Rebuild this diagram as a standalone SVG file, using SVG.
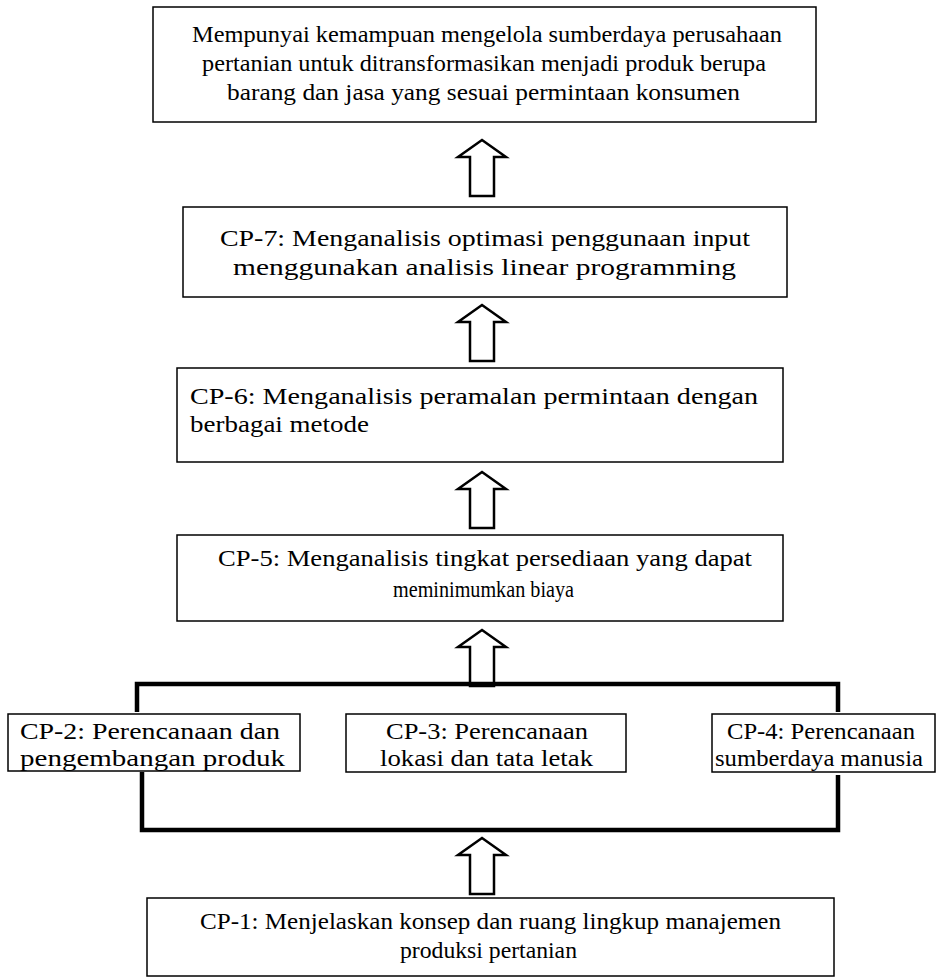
<svg xmlns="http://www.w3.org/2000/svg" width="941" height="980" viewBox="0 0 941 980">
<defs>
<style>
.box{fill:#fff;stroke:#000;stroke-width:1.5}
.t{font-family:"Liberation Serif","Times New Roman",serif;font-size:23px;fill:#000}
.arr{fill:#fff;stroke:#000;stroke-width:2.5;stroke-linejoin:miter}
.br{fill:none;stroke:#000;stroke-width:4.5}
</style>
<path id="arrow" class="arr" d="M0,0 L24,17 L12,17 L12,56 L-12,56 L-12,17 L-24,17 Z"/>
</defs>
<rect width="941" height="980" fill="#fff"/>
<g id="goal">
<rect class="box" x="153" y="7" width="663" height="115"/>
<text class="t" x="192" y="42" textLength="590" lengthAdjust="spacingAndGlyphs">Mempunyai kemampuan mengelola sumberdaya perusahaan</text>
<text class="t" x="202" y="71" textLength="564" lengthAdjust="spacingAndGlyphs">pertanian untuk ditransformasikan menjadi produk berupa</text>
<text class="t" x="227" y="100" textLength="513" lengthAdjust="spacingAndGlyphs">barang dan jasa yang sesuai permintaan konsumen</text>
</g>
<g id="cp7">
<rect class="box" x="183" y="207" width="604" height="90"/>
<text class="t" x="220" y="246" textLength="530" lengthAdjust="spacingAndGlyphs">CP-7: Menganalisis optimasi penggunaan input</text>
<text class="t" x="233" y="275" textLength="503" lengthAdjust="spacingAndGlyphs">menggunakan analisis linear programming</text>
</g>
<g id="cp6">
<rect class="box" x="177" y="368" width="606" height="94"/>
<text class="t" x="190" y="404" textLength="568" lengthAdjust="spacingAndGlyphs">CP-6: Menganalisis peramalan permintaan dengan</text>
<text class="t" x="190" y="432" textLength="179" lengthAdjust="spacingAndGlyphs">berbagai metode</text>
</g>
<g id="cp5">
<rect class="box" x="177" y="535" width="606" height="86"/>
<text class="t" x="218" y="566" textLength="534" lengthAdjust="spacingAndGlyphs">CP-5: Menganalisis tingkat persediaan yang dapat</text>
<text class="t" x="393" y="597" textLength="181" lengthAdjust="spacingAndGlyphs">meminimumkan biaya</text>
</g>
<g id="cp2">
<rect class="box" x="8" y="714" width="292" height="57"/>
<text class="t" x="20" y="739" textLength="260" lengthAdjust="spacingAndGlyphs">CP-2: Perencanaan dan</text>
<text class="t" x="20" y="766" textLength="265" lengthAdjust="spacingAndGlyphs">pengembangan produk</text>
</g>
<g id="cp3">
<rect class="box" x="346" y="714" width="280" height="58"/>
<text class="t" x="386" y="739" textLength="202" lengthAdjust="spacingAndGlyphs">CP-3: Perencanaan</text>
<text class="t" x="380" y="766" textLength="213" lengthAdjust="spacingAndGlyphs">lokasi dan tata letak</text>
</g>
<g id="cp4">
<rect class="box" x="712" y="714" width="223" height="58"/>
<text class="t" x="727" y="739" textLength="188" lengthAdjust="spacingAndGlyphs">CP-4: Perencanaan</text>
<text class="t" x="715" y="766" textLength="208" lengthAdjust="spacingAndGlyphs">sumberdaya manusia</text>
</g>
<g id="cp1">
<rect class="box" x="147" y="898" width="687" height="78"/>
<text class="t" x="200" y="929" textLength="581" lengthAdjust="spacingAndGlyphs">CP-1: Menjelaskan konsep dan ruang lingkup manajemen</text>
<text class="t" x="400" y="958" textLength="177" lengthAdjust="spacingAndGlyphs">produksi pertanian</text>
</g>
<g id="connectors">
<use href="#arrow" x="482" y="140"/>
<use href="#arrow" x="482" y="305"/>
<use href="#arrow" x="482" y="472"/>
<use href="#arrow" x="482" y="630"/>
<use href="#arrow" x="482" y="838"/>
<path class="br" d="M137,712 L137,684 L838,684 L838,712"/>
<path class="br" d="M142,772 L142,830 L838,830 L838,775"/>
</g>
</svg>
